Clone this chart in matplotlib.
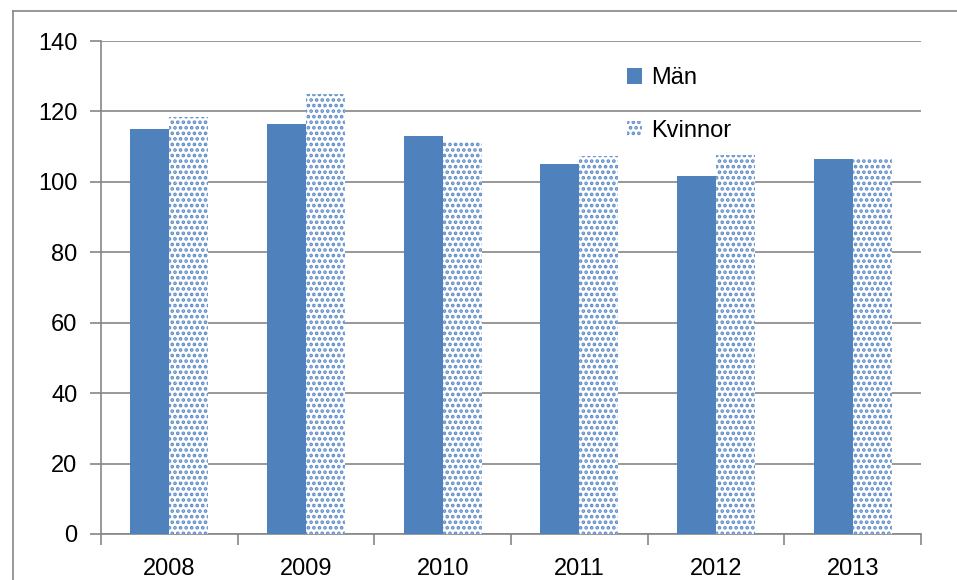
import matplotlib
matplotlib.use("Agg")
import matplotlib.pyplot as plt
import numpy as np
from matplotlib.lines import Line2D

years = ["2008", "2009", "2010", "2011", "2012", "2013"]
man = [115.0, 116.5, 113.0, 105.2, 101.7, 106.5]
kvinnor = [118.5, 125.0, 111.6, 107.3, 107.6, 106.6]

blue = "#4F81BD"
dots = "#5F8DC6"
grey = "#868686"

plt.rcParams["font.family"] = ["Liberation Sans", "DejaVu Sans"]
plt.rcParams["hatch.linewidth"] = 1.8

fig = plt.figure(figsize=(9.57, 5.8), dpi=100)
ax = fig.add_axes([101 / 957, 1 - 534 / 580, 820 / 957, 493 / 580])

x = np.arange(len(years))
w = 0.285
ax.bar(x - w / 2, man, w, color=blue, label="Män", zorder=3)
ax.bar(x + w / 2, kvinnor, w, facecolor="white", edgecolor=dots,
       linewidth=0, hatch="...", label="Kvinnor", zorder=3)

ax.set_xlim(-0.5, len(years) - 0.5)
ax.set_ylim(0, 140)
ax.set_yticks(range(0, 141, 20))
ax.yaxis.grid(True, color=grey, linewidth=1.2)
ax.set_axisbelow(True)

ax.set_xticks(x)
ax.set_xticklabels(years)
ax.set_xticks(np.arange(-0.5, len(years), 1), minor=True)
ax.tick_params(axis="x", which="major", length=0, pad=17, labelsize=17)
ax.tick_params(axis="x", which="minor", length=8, color=grey, width=1.2)
ax.tick_params(axis="y", length=8, color=grey, width=1.2, pad=9, labelsize=17)

for s in ["top", "right"]:
    ax.spines[s].set_visible(False)
for s in ["left", "bottom"]:
    ax.spines[s].set_color(grey)
    ax.spines[s].set_linewidth(1.2)

ax.legend(loc="upper left", bbox_to_anchor=(0.615, 0.99), frameon=False,
          fontsize=17, handlelength=0.65, handleheight=0.65, handletextpad=0.4,
          labelspacing=1.3)

# outer chart border (cut off at right and bottom)
fig.add_artist(Line2D([13 / 957, 1.0], [1 - 11 / 580, 1 - 11 / 580],
                      color=grey, linewidth=1.2, transform=fig.transFigure))
fig.add_artist(Line2D([13 / 957, 13 / 957], [0, 1 - 11 / 580],
                      color=grey, linewidth=1.2, transform=fig.transFigure))

fig.savefig("out.png", dpi=100)
